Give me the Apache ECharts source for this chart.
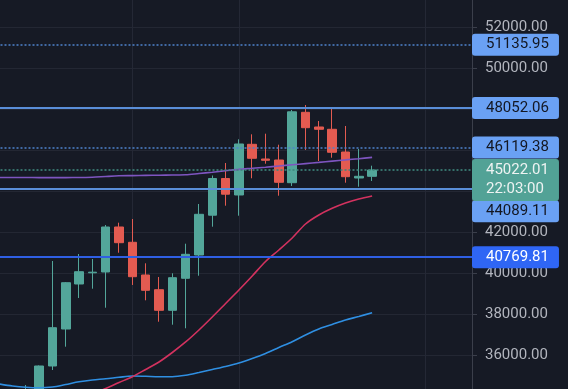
<!DOCTYPE html>
<html><head><meta charset="utf-8">
<script src="https://cdn.jsdelivr.net/npm/echarts@6/dist/echarts.min.js"></script>
<style>html,body{margin:0;padding:0;background:#161a25;overflow:hidden}#c{width:568px;height:389px}</style>
</head><body><div id="c"></div>
<script>
// ---- data ----
const categories = Array.from({length: 36}, (_, i) => String(i + 1));
const opens  = [null, null, 33900, 34100, 35464, 37268, 39464, 40010, 40049, 42244, 41498, 39903, 39185, 38180, 39742, 40878, 42820, 44610, 43805, 46278, 45561, 45512, 44405, 47839, 47122, 47010, 45902, 44634, 44717];
const closes = [null, null, 34200, 35464, 37332, 39527, 40064, 40040, 42244, 41478, 39820, 39156, 38180, 39771, 40912, 42863, 44610, 43844, 46293, 45595, 45498, 44424, 47863, 47088, 47010, 45888, 44698, 44717, 45022.01];
const lows   = [null, null, 33700, 33900, 35268, 36405, 38781, 39234, 38307, 40990, 39415, 38668, 37624, 37478, 37303, 39868, 42259, 43283, 42795, 44620, 45332, 43771, 44244, 46000, 45463, 45624, 44405, 44210, 44488];
const highs  = [null, null, 34537, 35490, 40585, 39560, 40927, 40683, 42341, 42454, 42634, 40473, 39805, 39985, 41429, 43366, 44756, 45366, 46522, 46766, 46795, 46259, 47951, 48195, 47415, 48034, 47171, 46049, 45234];
const maPurple = [44659, 44659, 44659, 44654, 44654, 44654, 44659, 44668, 44707, 44741, 44751, 44761, 44771, 44780, 44790, 44854, 44917, 44985, 45054, 45107, 45161, 45220, 45278, 45337, 45395, 45459, 45517, 45576, 45639];
const maRed    = [null, null, null, null, null, null, null, 34098, 34366, 34659, 34937, 35293, 35659, 36122, 36635, 37220, 37854, 38512, 39171, 39854, 40561, 41122, 41707, 42390, 42829, 43156, 43415, 43610, 43756];
const maBlue   = [34586, 34488, 34425, 34400, 34439, 34561, 34693, 34780, 34839, 34912, 34976, 34961, 34941, 34941, 35010, 35146, 35293, 35439, 35610, 35829, 36073, 36366, 36649, 36976, 37268, 37488, 37707, 37878, 38063];
const levelDottedTop = 51135.95;
const levelSolidHigh = 48052.06;
const levelDottedMid = 46119.38;
const lastPrice = 45022.01;
const lastTime = '22:03:00';
const levelSolidLow = 44089.11;
const levelBlue = 40769.81;
const verticalGridAt = [10, 18, 32];
const yTicks = {min: 34000, max: 54000, interval: 2000};

// ---- chart ----
const UP = '#53a69a', DOWN = '#e35b51';
const candles = opens.map((o, i) => o == null ? '-' : [o, closes[i], lows[i], highs[i]]);
const font = 'Roboto, "Noto Sans", sans-serif';
const boxLabel = (bg, fg, extra) => Object.assign({
  show: true, position: 'end', distance: 0,
  formatter: p => Number(p.value).toFixed(2),
  backgroundColor: bg, color: fg, fontSize: 15, fontFamily: font,
  padding: [4, 10, 3, 14], borderRadius: 3, align: 'left', verticalAlign: 'middle'
}, extra || {});

const chart = echarts.init(document.getElementById('c'), null, {renderer: 'canvas'});
chart.setOption({
  backgroundColor: '#161a25',
  animation: false,
  grid: {left: -7.5, right: 96, top: -14, bottom: -7, containLabel: false, outerBoundsMode: 'none'},
  xAxis: {
    type: 'category', data: categories, boundaryGap: true,
    axisLine: {show: false}, axisTick: {show: false}, axisLabel: {show: false}, splitLine: {show: false}
  },
  yAxis: {
    type: 'value', position: 'right', scale: true,
    min: yTicks.min, max: yTicks.max, interval: yTicks.interval,
    axisLine: {show: true, lineStyle: {color: '#3b3f4b', width: 1}},
    axisTick: {show: true, length: 5, lineStyle: {color: '#3b3f4b'}},
    axisLabel: {color: '#b2b5be', fontSize: 15, fontFamily: font, margin: 13,
      formatter: v => v.toFixed(2)},
    splitLine: {show: true, lineStyle: {color: '#232733', width: 1}}
  },
  series: [
    {
      type: 'line', data: [], z: 1, silent: true,
      markLine: {
        silent: true, symbol: ['none', 'none'], z: 1,
        label: {show: false},
        lineStyle: {color: '#242835', width: 1, type: 'solid'},
        data: verticalGridAt.map(i => ({xAxis: categories[i]}))
      }
    },
    {
      type: 'candlestick', data: candles, barWidth: 9, z: 2,
      itemStyle: {color: UP, color0: DOWN, borderColor: UP, borderColor0: DOWN, borderWidth: 1}
    },
    {type: 'line', data: maBlue, z: 3, showSymbol: false, smooth: 0.3, lineStyle: {color: '#2f8fe2', width: 1.6}},
    {type: 'line', data: maRed, z: 3, showSymbol: false, smooth: 0.3, lineStyle: {color: '#d3325f', width: 1.6}},
    {type: 'line', data: maPurple, z: 3, showSymbol: false, smooth: 0.3, lineStyle: {color: '#7e55c0', width: 1.6}},
    {
      type: 'line', data: [], z: 4, silent: true,
      markLine: {
        silent: true, symbol: ['none', 'none'], z: 4,
        data: [
          {yAxis: levelDottedTop, lineStyle: {color: '#4f82cc', width: 1.6, type: [2, 2]},
            label: boxLabel('#6aa1f4', '#131722')},
          {yAxis: levelSolidHigh, lineStyle: {color: '#5a8ed8', width: 2, type: 'solid'},
            label: boxLabel('#6aa1f4', '#131722')},
          {yAxis: levelDottedMid, lineStyle: {color: '#4f82cc', width: 1.6, type: [2, 2]},
            label: boxLabel('#6aa1f4', '#131722')},
          {yAxis: levelSolidLow, lineStyle: {color: '#5a8ed8', width: 2, type: 'solid'},
            label: boxLabel('#6aa1f4', '#131722', {offset: [0, 22]})},
          {yAxis: levelBlue, lineStyle: {color: '#2f5fe4', width: 2, type: 'solid'},
            label: boxLabel('#2f66f5', '#ffffff')},
          {yAxis: lastPrice, lineStyle: {color: '#3d867c', width: 1.6, type: [2, 2]},
            label: boxLabel('#52a296', '#eef3f2', {
              formatter: p => Number(p.value).toFixed(2) + '\n' + lastTime,
              lineHeight: 19, padding: [2, 10, 2, 14], offset: [0, 10]
            })}
        ]
      }
    }
  ]
});
</script></body></html>
